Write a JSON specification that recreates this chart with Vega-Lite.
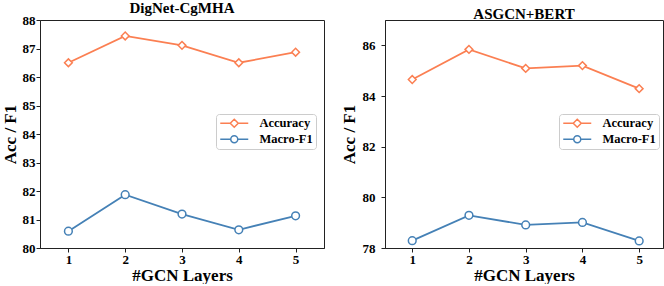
{
  "$schema": "https://vega.github.io/schema/vega-lite/v6.json",
  "padding": {"left": 0, "top": 0, "right": 7, "bottom": 0},
  "spacing": 14,
  "config": {
    "font": "Liberation Serif",
    "view": {"stroke": "#222", "strokeWidth": 1},
    "axis": {"labelFont": "Liberation Serif", "labelFontWeight": "bold", "labelFontSize": 13, "labelColor": "#000", "titleFont": "Liberation Serif", "titleFontWeight": "bold", "titleFontSize": 17, "titleColor": "#000", "grid": false, "tickColor": "#222", "domainColor": "#222", "tickSize": 4},
    "axisY": {"labelPadding": 1, "titlePadding": 3},
    "axisX": {"labelPadding": 1, "titlePadding": 1},
    "title": {"font": "Liberation Serif", "fontSize": 15, "fontWeight": "bold", "color": "#000", "offset": -2, "frame": "group"},
    "legend": {"labelFont": "Liberation Serif", "labelFontSize": 12.5, "labelFontWeight": "bold", "labelColor": "#000", "title": null, "orient": "none", "legendY": 94, "strokeColor": "#ccc", "cornerRadius": 3, "padding": 3, "fillColor": "white", "symbolSize": 100, "symbolStrokeWidth": 1.5, "symbolOpacity": 1, "rowPadding": 1, "labelOffset": 28}
  },
  "datasets": {
    "d": [
      {"model": "DigNet-CgMHA", "metric": "Accuracy", "layers": 1, "value": 86.5},
      {"model": "DigNet-CgMHA", "metric": "Accuracy", "layers": 2, "value": 87.44},
      {"model": "DigNet-CgMHA", "metric": "Accuracy", "layers": 3, "value": 87.11},
      {"model": "DigNet-CgMHA", "metric": "Accuracy", "layers": 4, "value": 86.5},
      {"model": "DigNet-CgMHA", "metric": "Accuracy", "layers": 5, "value": 86.87},
      {"model": "DigNet-CgMHA", "metric": "Macro-F1", "layers": 1, "value": 80.59},
      {"model": "DigNet-CgMHA", "metric": "Macro-F1", "layers": 2, "value": 81.87},
      {"model": "DigNet-CgMHA", "metric": "Macro-F1", "layers": 3, "value": 81.19},
      {"model": "DigNet-CgMHA", "metric": "Macro-F1", "layers": 4, "value": 80.64},
      {"model": "DigNet-CgMHA", "metric": "Macro-F1", "layers": 5, "value": 81.13},
      {"model": "ASGCN+BERT", "metric": "Accuracy", "layers": 1, "value": 84.65},
      {"model": "ASGCN+BERT", "metric": "Accuracy", "layers": 2, "value": 85.84},
      {"model": "ASGCN+BERT", "metric": "Accuracy", "layers": 3, "value": 85.09},
      {"model": "ASGCN+BERT", "metric": "Accuracy", "layers": 4, "value": 85.2},
      {"model": "ASGCN+BERT", "metric": "Accuracy", "layers": 5, "value": 84.29},
      {"model": "ASGCN+BERT", "metric": "Macro-F1", "layers": 1, "value": 78.29},
      {"model": "ASGCN+BERT", "metric": "Macro-F1", "layers": 2, "value": 79.29},
      {"model": "ASGCN+BERT", "metric": "Macro-F1", "layers": 3, "value": 78.91},
      {"model": "ASGCN+BERT", "metric": "Macro-F1", "layers": 4, "value": 79.01},
      {"model": "ASGCN+BERT", "metric": "Macro-F1", "layers": 5, "value": 78.28}
    ]
  },
  "hconcat": [
    {
      "title": "DigNet-CgMHA",
      "width": 284,
      "height": 228,
      "data": {"name": "d"},
      "transform": [{"filter": "datum.model == 'DigNet-CgMHA'"}],
      "encoding": {
        "x": {"field": "layers", "type": "quantitative", "scale": {"domain": [0.5, 5.5], "nice": false}, "axis": {"values": [1, 2, 3, 4, 5], "format": "d", "title": "#GCN Layers"}},
        "y": {"field": "value", "type": "quantitative", "scale": {"domain": [80, 88], "nice": false, "zero": false}, "axis": {"values": [80, 81, 82, 83, 84, 85, 86, 87, 88], "title": "Acc / F1"}},
        "color": {"field": "metric", "type": "nominal", "scale": {"domain": ["Accuracy", "Macro-F1"], "range": ["#fb7f52", "#4581b6"]}, "legend": {"legendX": 176}}
      },
      "layer": [
        {"mark": {"type": "line", "strokeWidth": 1.8}},
        {"transform": [{"filter": "datum.metric == 'Accuracy'"}], "mark": {"type": "point", "shape": "diamond", "filled": false, "fill": "white", "strokeWidth": 1.5, "size": 60, "opacity": 1}},
        {"transform": [{"filter": "datum.metric == 'Macro-F1'"}], "mark": {"type": "point", "shape": "circle", "filled": false, "fill": "white", "strokeWidth": 1.5, "size": 60, "opacity": 1}},
        {"mark": {"type": "point", "filled": false, "fill": "white", "strokeWidth": 1.5, "opacity": 0},
          "encoding": {"shape": {"field": "metric", "type": "nominal", "scale": {"domain": ["Accuracy", "Macro-F1"], "range": ["M-1,0H1M2.6,0H4.6M1.8,-0.8L2.6,0L1.8,0.8L1,0Z", "M-1,0H1.1M2.5,0H4.6M2.5,0A0.7,0.7,0,1,1,1.1,0A0.7,0.7,0,1,1,2.5,0Z"]}, "legend": {"legendX": 176}}}}
      ]
    },
    {
      "title": "ASGCN+BERT",
      "width": 278,
      "height": 228,
      "data": {"name": "d"},
      "transform": [{"filter": "datum.model == 'ASGCN+BERT'"}],
      "encoding": {
        "x": {"field": "layers", "type": "quantitative", "scale": {"domain": [0.52, 5.42], "nice": false}, "axis": {"values": [1, 2, 3, 4, 5], "format": "d", "title": "#GCN Layers"}},
        "y": {"field": "value", "type": "quantitative", "scale": {"domain": [78, 87], "nice": false, "zero": false}, "axis": {"values": [78, 80, 82, 84, 86], "title": "Acc / F1", "labelPadding": 6, "titlePadding": 4}},
        "color": {"field": "metric", "type": "nominal", "scale": {"domain": ["Accuracy", "Macro-F1"], "range": ["#fb7f52", "#4581b6"]}, "legend": {"legendX": 174}}
      },
      "layer": [
        {"mark": {"type": "line", "strokeWidth": 1.8}},
        {"transform": [{"filter": "datum.metric == 'Accuracy'"}], "mark": {"type": "point", "shape": "diamond", "filled": false, "fill": "white", "strokeWidth": 1.5, "size": 60, "opacity": 1}},
        {"transform": [{"filter": "datum.metric == 'Macro-F1'"}], "mark": {"type": "point", "shape": "circle", "filled": false, "fill": "white", "strokeWidth": 1.5, "size": 60, "opacity": 1}},
        {"mark": {"type": "point", "filled": false, "fill": "white", "strokeWidth": 1.5, "opacity": 0},
          "encoding": {"shape": {"field": "metric", "type": "nominal", "scale": {"domain": ["Accuracy", "Macro-F1"], "range": ["M-1,0H1M2.6,0H4.6M1.8,-0.8L2.6,0L1.8,0.8L1,0Z", "M-1,0H1.1M2.5,0H4.6M2.5,0A0.7,0.7,0,1,1,1.1,0A0.7,0.7,0,1,1,2.5,0Z"]}, "legend": {"legendX": 174}}}}
      ]
    }
  ],
  "resolve": {"scale": {"color": "independent", "shape": "independent"}, "legend": {"color": "independent", "shape": "independent"}}
}
